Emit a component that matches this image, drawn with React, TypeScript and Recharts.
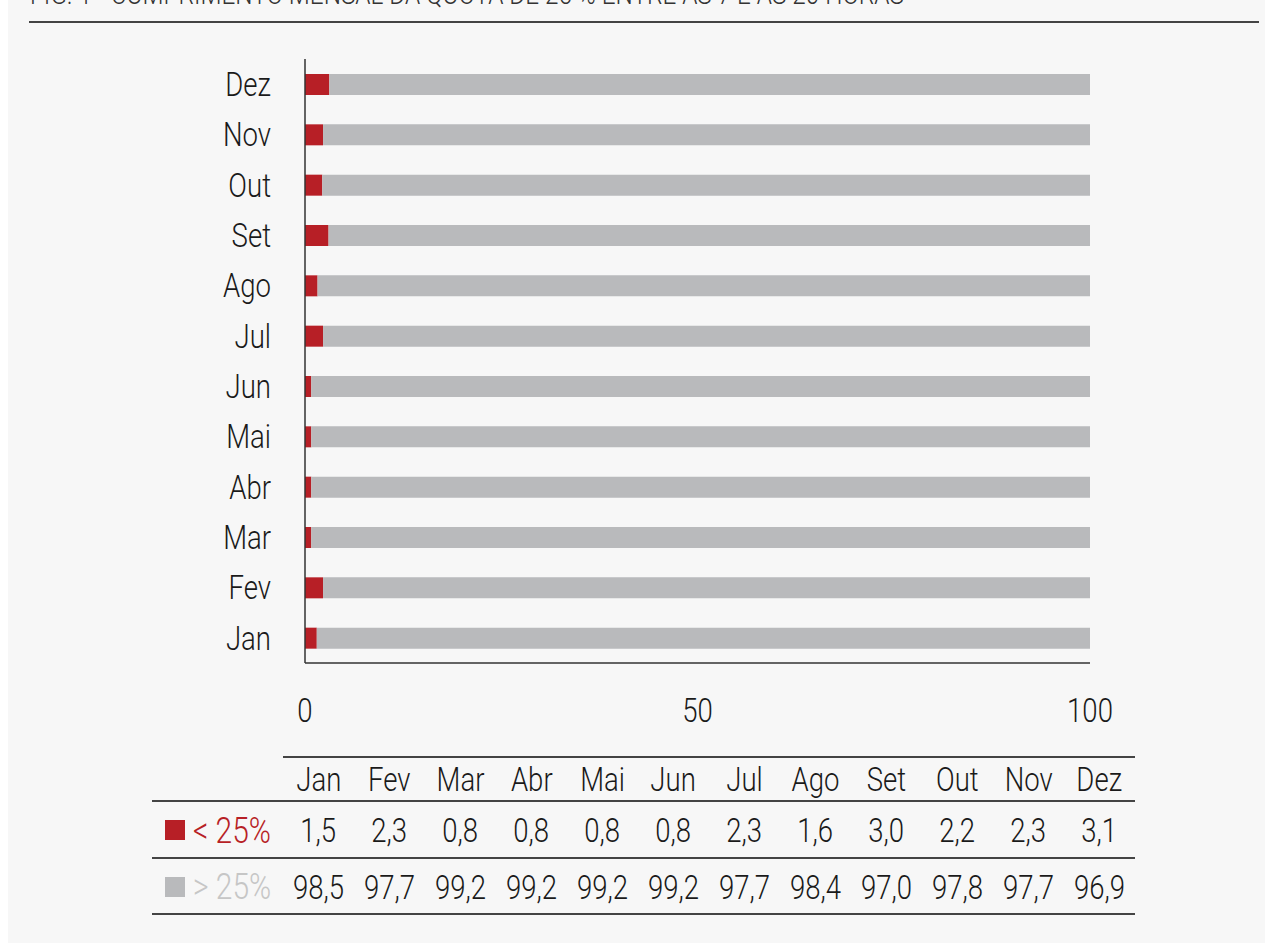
import React from 'react';
import { BarChart, Bar, XAxis, YAxis } from 'recharts';

const MONTHS = ['Jan', 'Fev', 'Mar', 'Abr', 'Mai', 'Jun', 'Jul', 'Ago', 'Set', 'Out', 'Nov', 'Dez'];
const BELOW_25 = [1.5, 2.3, 0.8, 0.8, 0.8, 0.8, 2.3, 1.6, 3.0, 2.2, 2.3, 3.1];
const ABOVE_25 = [98.5, 97.7, 99.2, 99.2, 99.2, 99.2, 97.7, 98.4, 97.0, 97.8, 97.7, 96.9];
const X_TICKS = [0, 50, 100];

const TITLE = 'FIG. 1 - CUMPRIMENTO MENSAL DA QUOTA DE 25 % ENTRE AS 7 E AS 20 HORAS';

const RED = '#b71f26';
const GREY = '#b9babc';
const FONT = 'Roboto, "Noto Sans", sans-serif';
const FS = 34;
const SQUEEZE = 0.81; // fake a condensed face

const data = MONTHS.map((m, i) => ({ month: m, below: BELOW_25[i], above: ABOVE_25[i] }));

const fmt = (v: number) => v.toFixed(1).replace('.', ',');

// narrow text for html bits
const Cond = ({ children, origin = 'center' }: { children: React.ReactNode; origin?: string }) => (
  <span style={{ display: 'inline-block', transform: `scaleX(${SQUEEZE})`, transformOrigin: origin, whiteSpace: 'nowrap' }}>
    {children}
  </span>
);

const YTick = (props: any) => {
  const { x, y, payload } = props;
  return (
    <g transform={`translate(${x},${y}) scale(${SQUEEZE},1)`}>
      <text textAnchor="end" dy="0.35em" fill="#1a1a1a" fontSize={FS} fontFamily={FONT} fontWeight={300}>
        {payload.value}
      </text>
    </g>
  );
};

const XTick = (props: any) => {
  const { x, y, payload } = props;
  return (
    <g transform={`translate(${x},${y}) scale(${SQUEEZE},1)`}>
      <text textAnchor="middle" dy="0.71em" fill="#1a1a1a" fontSize={FS} fontFamily={FONT} fontWeight={300}>
        {payload.value}
      </text>
    </g>
  );
};

const line = (top: number, left: number, right: number) => (
  <div style={{ position: 'absolute', top, left: left - 8, width: right - left, height: 2, background: '#444' }} />
);

const Row = ({ top, height, label, values }: { top: number; height: number; label?: React.ReactNode; values: string[] }) => (
  <div style={{ position: 'absolute', top, left: 144, height, display: 'flex', alignItems: 'center' }}>
    <div style={{ width: 131, display: 'flex', alignItems: 'center' }}>{label}</div>
    {values.map((v, i) => (
      <div key={i} style={{ width: 71, textAlign: 'center' }}>
        <Cond>{v}</Cond>
      </div>
    ))}
  </div>
);

const LegendLabel = ({ color, text }: { color: string; text: string }) => (
  <div style={{ display: 'flex', alignItems: 'center', paddingLeft: 13, whiteSpace: 'nowrap' }}>
    <span style={{ display: 'inline-block', width: 20, height: 20, background: color, marginRight: 8, flexShrink: 0 }} />
    <span style={{ color: color === RED ? RED : '#c6c6c6', fontSize: 37 }}>
      <Cond origin="left">{text}</Cond>
    </span>
  </div>
);

export default function App() {
  return (
    <div
      style={{
        position: 'absolute',
        top: 0,
        left: 8,
        width: 1257,
        height: 943,
        background: '#f7f7f7',
        overflow: 'hidden',
        fontFamily: FONT,
        fontWeight: 300,
        fontSize: FS,
        lineHeight: 1,
        color: '#1a1a1a',
      }}
    >
      <div style={{ position: 'absolute', top: -21, left: 22, fontSize: 30, lineHeight: '30px', color: '#333', whiteSpace: 'nowrap' }}>
        <Cond origin="left">{TITLE}</Cond>
      </div>
      {line(21, 29, 1259)}

      <div style={{ position: 'absolute', left: 0, top: 0 }}>
        <BarChart
          width={1200}
          height={740}
          data={data}
          layout="vertical"
          margin={{ top: 59, right: 118, bottom: 17, left: 197 }}
        >
          <XAxis
            type="number"
            domain={[0, 100]}
            ticks={X_TICKS}
            axisLine={{ stroke: '#333', strokeWidth: 1.5 }}
            tickLine={false}
            tickMargin={29}
            height={60}
            tick={<XTick />}
          />
          <YAxis
            type="category"
            dataKey="month"
            reversed
            width={100}
            axisLine={{ stroke: '#333', strokeWidth: 1.5 }}
            tickLine={false}
            tickMargin={28}
            interval={0}
            tick={<YTick />}
          />
          <Bar dataKey="below" stackId="a" fill={RED} barSize={21} isAnimationActive={false} />
          <Bar dataKey="above" stackId="a" fill={GREY} barSize={21} isAnimationActive={false} />
        </BarChart>
      </div>

      {line(756, 283, 1135)}
      <Row top={757} height={44} values={MONTHS} />
      {line(800, 152, 1135)}
      <Row top={802} height={56} label={<LegendLabel color={RED} text="< 25%" />} values={BELOW_25.map(fmt)} />
      {line(857, 152, 1135)}
      <Row top={859} height={55} label={<LegendLabel color={GREY} text="> 25%" />} values={ABOVE_25.map(fmt)} />
      {line(913, 152, 1135)}
    </div>
  );
}
